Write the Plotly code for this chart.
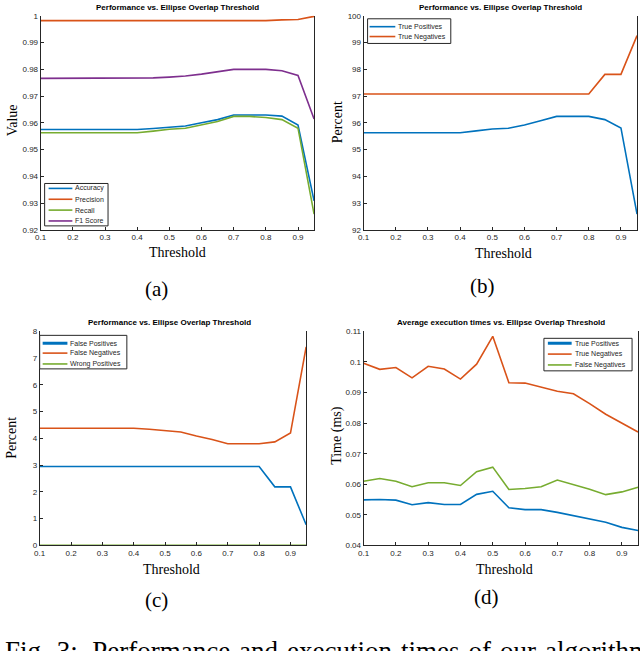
import plotly.graph_objects as go

W, H = 640, 651

threshold = [0.10, 0.15, 0.20, 0.25, 0.30, 0.35, 0.40, 0.45, 0.50,
             0.55, 0.60, 0.65, 0.70, 0.75, 0.80, 0.85, 0.90, 0.95]

# (a) Performance metrics
accuracy = [0.9575, 0.9575, 0.9575, 0.9575, 0.9575, 0.9575, 0.9575, 0.9579, 0.9583,
            0.9588, 0.9600, 0.9612, 0.9629, 0.9629, 0.9629, 0.9625, 0.9592, 0.9308]
precision = [0.9982, 0.9982, 0.9982, 0.9982, 0.9982, 0.9982, 0.9982, 0.9982, 0.9982,
             0.9982, 0.9982, 0.9982, 0.9982, 0.9982, 0.9982, 0.9985, 0.9986, 0.9998]
recall = [0.9563, 0.9563, 0.9563, 0.9563, 0.9563, 0.9563, 0.9563, 0.9569, 0.9576,
          0.9580, 0.9592, 0.9605, 0.9624, 0.9624, 0.9620, 0.9612, 0.9580, 0.9259]
f1_score = [0.9766, 0.9766, 0.9766, 0.9766, 0.9766, 0.9766, 0.9766, 0.9768, 0.9771,
            0.9775, 0.9782, 0.9792, 0.9800, 0.9800, 0.9800, 0.9795, 0.9777, 0.9614]

# (b) True rates (percent)
true_pos_b = [95.63, 95.63, 95.63, 95.63, 95.63, 95.63, 95.63, 95.70, 95.77,
              95.80, 95.92, 96.08, 96.24, 96.24, 96.24, 96.12, 95.81, 92.59]
true_neg_b = [97.08, 97.08, 97.08, 97.08, 97.08, 97.08, 97.08, 97.08, 97.08,
              97.08, 97.08, 97.08, 97.08, 97.08, 97.08, 97.81, 97.81, 99.26]

# (c) Error rates (percent)
false_pos_c = [2.95, 2.95, 2.95, 2.95, 2.95, 2.95, 2.95, 2.95, 2.95,
               2.95, 2.95, 2.95, 2.95, 2.95, 2.95, 2.19, 2.19, 0.77]
false_neg_c = [4.38, 4.38, 4.38, 4.38, 4.38, 4.38, 4.38, 4.34, 4.29,
               4.24, 4.09, 3.96, 3.80, 3.80, 3.80, 3.87, 4.20, 7.42]
wrong_pos_c = [0, 0, 0, 0, 0, 0, 0, 0, 0, 0, 0, 0, 0, 0, 0, 0, 0, 0]

# (d) Average execution times (ms)
time_tp = [0.0549, 0.0550, 0.0548, 0.0533, 0.0540, 0.0534, 0.0534, 0.0567, 0.0577,
           0.0523, 0.0517, 0.0517, 0.0508, 0.0498, 0.0487, 0.0476, 0.0459, 0.0449]
time_tn = [0.0996, 0.0976, 0.0982, 0.0948, 0.0986, 0.0977, 0.0944, 0.0993, 0.1084,
           0.0932, 0.0931, 0.0918, 0.0904, 0.0896, 0.0864, 0.0829, 0.0800, 0.0771]
time_fn = [0.0610, 0.0619, 0.0610, 0.0592, 0.0605, 0.0605, 0.0596, 0.0641, 0.0656,
           0.0583, 0.0586, 0.0592, 0.0614, 0.0599, 0.0584, 0.0566, 0.0575, 0.0590]

BLUE, ORANGE, GREEN, PURPLE = "#0072BD", "#D95319", "#77AC30", "#7E2F8E"
AX = "#262626"
SANS = "Liberation Sans, Arial, sans-serif"
SERIF = "Liberation Serif, Times New Roman, serif"


def px(x):
    return x / W


def py(y):
    return 1 - y / H


fig = go.Figure()

panels = [
    ("x", "y",
     [("Accuracy", accuracy, BLUE), ("Precision", precision, ORANGE),
      ("Recall", recall, GREEN), ("F1 Score", f1_score, PURPLE)],
     (35, 311), (12, 229), (0.92, 1.0), 0.01),
    ("x2", "y2",
     [("True Positives", true_pos_b, BLUE), ("True Negatives", true_neg_b, ORANGE)],
     (361, 637), (12, 229), (92, 100), 1),
    ("x3", "y3",
     [("False Positives", false_pos_c, BLUE), ("False Negatives", false_neg_c, ORANGE),
      ("Wrong Positives", wrong_pos_c, GREEN)],
     (34, 303), (332, 549), (0, 8), 1),
    ("x4", "y4",
     [("True Positives", time_tp, BLUE), ("True Negatives", time_tn, ORANGE),
      ("False Negatives", time_fn, GREEN)],
     (361, 638), (332, 549), (0.04, 0.11), 0.01),
]

# legend boxes: (left, top, right, bottom), sample x0, x1, text x, row ys, thick-first flag
legend_geo = [
    ((39, 182, 103, 225), 43, 67, 68, [187, 198, 209, 220], False),
    ((365, 15, 449, 40), 367, 393, 394, [23, 33], False),
    ((34, 336, 122, 370), 37, 62, 63, [344, 354, 365], True),
    ((543, 339, 632, 372), 547, 571, 572, [344, 355, 366], True),
]

layout = {}
shapes = []
annotations = []
for i, (xa, ya, series, xd, yd, yr, ydt) in enumerate(panels):
    for name, vals, col in series:
        fig.add_trace(go.Scatter(x=threshold, y=vals, mode="lines", name=name,
                                 line=dict(color=col, width=1.6),
                                 xaxis=xa, yaxis=ya, showlegend=False))
    xkey = "xaxis" if xa == "x" else "xaxis" + xa[1:]
    ykey = "yaxis" if ya == "y" else "yaxis" + ya[1:]
    layout[xkey] = dict(domain=[px(xd[0]), px(xd[1])], anchor=ya,
                        range=[0.1, 0.95], dtick=0.1, tick0=0.1,
                        showgrid=False, zeroline=False, showline=True,
                        linecolor=AX, linewidth=1, ticks="inside", ticklen=3,
                        tickcolor=AX, tickfont=dict(family=SANS, size=8, color=AX))
    layout[ykey] = dict(domain=[py(yd[1]), py(yd[0])], anchor=xa,
                        range=list(yr), dtick=ydt, tick0=yr[0],
                        showgrid=False, zeroline=False, showline=True, mirror=True,
                        linecolor=AX, linewidth=1, ticks="inside", ticklen=3,
                        tickcolor=AX, tickfont=dict(family=SANS, size=8, color=AX))

    # legend (drawn as box + sample lines + text)
    (bl, bt, br, bb), sx0, sx1, tx, rows, thick = legend_geo[i]
    shapes.append(dict(type="rect", xref="paper", yref="paper",
                       x0=px(bl), x1=px(br), y0=py(bb), y1=py(bt),
                       line=dict(color=AX, width=1), fillcolor="white", layer="above"))
    for j, ((name, vals, col), ry) in enumerate(zip(series, rows)):
        shapes.append(dict(type="line", xref="paper", yref="paper",
                           x0=px(sx0), x1=px(sx1), y0=py(ry), y1=py(ry),
                           line=dict(color=col, width=3 if (thick and j == 0) else 1.6),
                           layer="above"))
        annotations.append(dict(text=name, x=px(tx), y=py(ry), xref="paper", yref="paper",
                                showarrow=False, xanchor="left", yanchor="middle",
                                font=dict(family=SANS, size=7, color=AX)))

titles = [("Performance vs. Ellipse Overlap Threshold", 173, 4),
          ("Performance vs. Ellipse Overlap Threshold", 499, 4),
          ("Performance vs. Ellipse Overlap Threshold", 165, 323),
          ("Average execution times vs. Ellipse Overlap Threshold", 500, 323)]
for t, x, y in titles:
    annotations.append(dict(text="<b>" + t + "</b>", x=px(x), y=py(y), xref="paper",
                            yref="paper", showarrow=False, xanchor="center",
                            yanchor="middle", font=dict(family=SANS, size=8, color="#000")))

xlabels = [(173, 252), (502, 253), (167, 573), (503, 573)]
for x, y in xlabels:
    annotations.append(dict(text="Threshold", x=px(x), y=py(y), xref="paper", yref="paper",
                            showarrow=False, xanchor="center", yanchor="middle",
                            font=dict(family=SERIF, size=14, color="#000")))

ylabels = [("Value", 6, 118), ("Percent", 334, 120), ("Percent", 6, 440), ("Time (ms)", 334, 437)]
for t, x, y in ylabels:
    annotations.append(dict(text=t, x=px(x), y=py(y), xref="paper", yref="paper",
                            showarrow=False, xanchor="center", yanchor="middle", textangle=-90,
                            font=dict(family=SERIF, size=14, color="#000")))

captions = [("(a)", 152, 289), ("(b)", 481, 286), ("(c)", 152, 604), ("(d)", 485, 601)]
for t, x, y in captions:
    annotations.append(dict(text=t, x=px(x), y=py(y), xref="paper", yref="paper",
                            showarrow=False, xanchor="center", yanchor="middle",
                            font=dict(family=SERIF, size=21, color="#000")))

gap = "\u00a0\u200a"
fig_caption = gap.join(["Fig.", "3:\u2009", "Performance", "and", "execution",
                        "times", "of", "our", "algorithm"])
annotations.append(dict(text=fig_caption,
                        x=px(-3), y=py(639), xref="paper", yref="paper", showarrow=False,
                        xanchor="left", yanchor="top",
                        font=dict(family=SERIF, size=27, color="#000")))

fig.update_layout(width=W, height=H, margin=dict(l=0, r=0, t=0, b=0),
                  paper_bgcolor="white", plot_bgcolor="white", showlegend=False,
                  annotations=annotations, shapes=shapes, **layout)

fig.write_html("out.html", config={"displayModeBar": False},
               post_script="document.body.style.margin='0px';"
                           "document.body.style.overflow='hidden';")
